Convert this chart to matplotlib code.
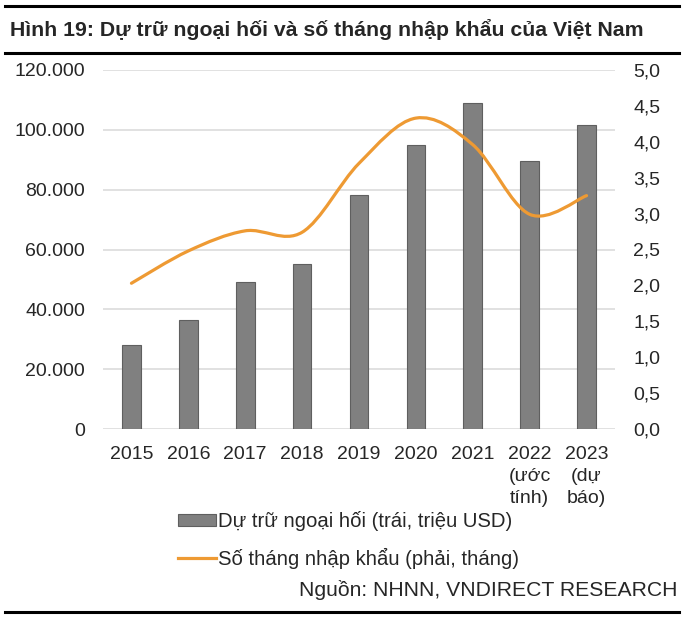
import matplotlib
matplotlib.use("Agg")
import matplotlib.pyplot as plt
from matplotlib.path import Path
from matplotlib.patches import PathPatch, Patch
from matplotlib.lines import Line2D
from matplotlib.ticker import FuncFormatter
import numpy as np

plt.rcParams['font.family'] = ['Liberation Sans', 'DejaVu Sans']

title = "Hình 19: Dự trữ ngoại hối và số tháng nhập khẩu của Việt Nam"
categories = ["2015", "2016", "2017", "2018", "2019", "2020", "2021",
              "2022\n(ước\ntính)", "2023\n(dự\nbáo)"]
reserves = [28000, 36300, 49300, 55200, 78300, 94800, 109000, 89700, 101600]
import_months = [2.03, 2.48, 2.76, 2.74, 3.70, 4.33, 3.96, 2.99, 3.25]
left_ticks = [0, 20000, 40000, 60000, 80000, 100000, 120000]
right_ticks = [0, 0.5, 1.0, 1.5, 2.0, 2.5, 3.0, 3.5, 4.0, 4.5, 5.0]
legend_bar = "Dự trữ ngoại hối (trái, triệu USD)"
legend_line = "Số tháng nhập khẩu (phải, tháng)"
source = "Nguồn: NHNN, VNDIRECT RESEARCH"

BAR = "#808080"
BAR_EDGE = "#5f5f5f"
ORANGE = "#EE9A33"
GRID = "#d9d9d9"
TXT = "#262626"
FS = 14

W, H = 700, 622
fig = plt.figure(figsize=(W / 100, H / 100), dpi=100)

def fx(px):
    return px / W

def fy(py):
    return 1 - py / H

ax = fig.add_axes([fx(103), fy(429), fx(615) - fx(103), fy(70) - fy(429)])
ax2 = ax.twinx()

x = np.arange(len(categories))
ax.bar(x, reserves, width=0.33, color=BAR, edgecolor=BAR_EDGE, linewidth=0.8, zorder=2)
ax.set_xlim(-0.5, len(categories) - 0.5)
ax.set_ylim(0, 120000)
ax.set_yticks(left_ticks)
ax.yaxis.set_major_formatter(FuncFormatter(lambda v, p: "0" if v == 0 else f"{int(v):,}".replace(",", ".")))
ax.set_xticks(x)
ax.set_xticklabels(categories, linespacing=1.38)
ax.grid(axis="y", color=GRID, linewidth=1.1, zorder=0)
ax.set_axisbelow(True)
for s in ax.spines.values():
    s.set_visible(False)
ax.tick_params(axis="y", length=0, pad=13, labelsize=FS, labelcolor=TXT)
ax.tick_params(axis="x", length=0, pad=12, labelsize=FS, labelcolor=TXT)

ax2.set_ylim(0, 5)
ax2.set_yticks(right_ticks)
ax2.yaxis.set_major_formatter(FuncFormatter(lambda v, p: f"{v:.1f}".replace(".", ",")))
for s in ax2.spines.values():
    s.set_visible(False)
ax2.tick_params(axis="y", length=0, pad=13, labelsize=FS, labelcolor=TXT)

# smoothed line (Catmull-Rom style Bezier through the data points)
pts = np.column_stack([x, import_months]).astype(float)
n = len(pts)
verts = [tuple(pts[0])]
codes = [Path.MOVETO]
for i in range(n - 1):
    p0 = pts[i - 1] if i > 0 else pts[i]
    p1 = pts[i]
    p2 = pts[i + 1]
    p3 = pts[i + 2] if i + 2 < n else pts[i + 1]
    c1 = p1 + (p2 - p0) / 6.0
    c2 = p2 - (p3 - p1) / 6.0
    verts += [tuple(c1), tuple(c2), tuple(p2)]
    codes += [Path.CURVE4] * 3
path = Path(verts, codes)
ax2.add_patch(PathPatch(path, facecolor="none", edgecolor=ORANGE, linewidth=2.3,
                        capstyle="round", joinstyle="round", zorder=3))

# title and rules
fig.text(fx(10), fy(30), title, fontsize=15.3, fontweight="bold", color=TXT,
         ha="left", va="center")
for yy in (6, 53, 612):
    fig.add_artist(Line2D([fx(5), fx(679)], [fy(yy), fy(yy)], color="black", linewidth=2.2))

# legend
handles = [Patch(facecolor=BAR, edgecolor=BAR_EDGE, linewidth=0.8),
           Line2D([0], [0], color=ORANGE, linewidth=2.3)]
fig.legend(handles, [legend_bar, legend_line], loc="upper left",
           bbox_to_anchor=(fx(178), fy(511)), frameon=False, fontsize=14.6,
           handlelength=1.85, handleheight=0.55, handletextpad=0.1,
           labelspacing=0.82, borderaxespad=0, borderpad=0, labelcolor=TXT)

fig.text(fx(677), fy(590), source, fontsize=15.2, color=TXT, ha="right", va="center")

fig.savefig("out.png", dpi=100)
